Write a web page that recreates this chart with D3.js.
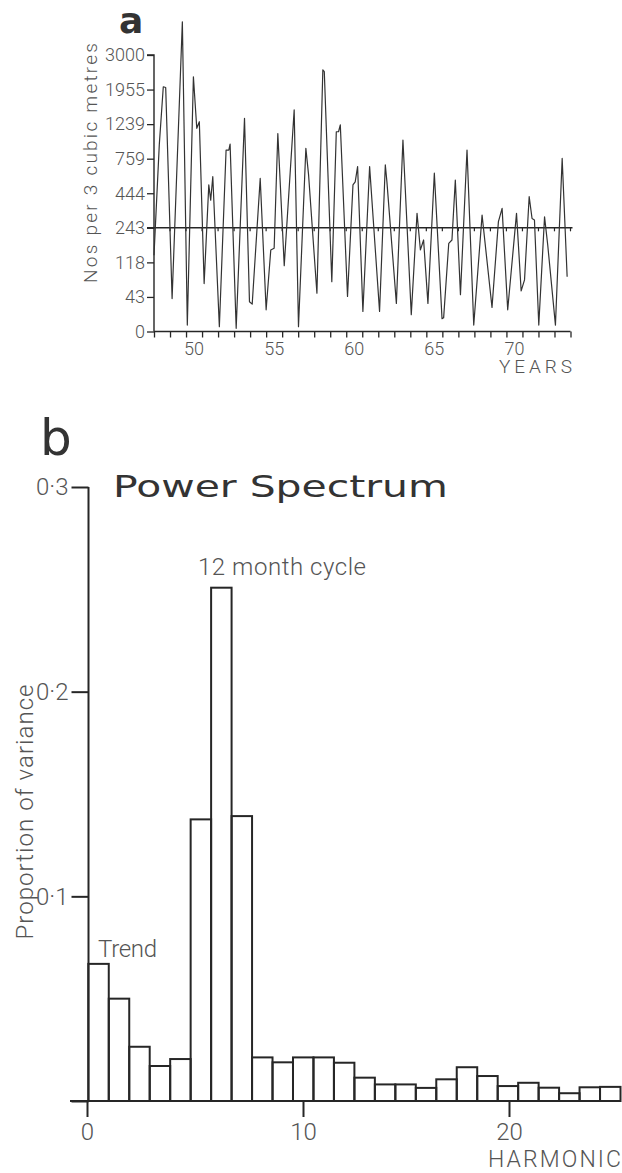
<!DOCTYPE html>
<html>
<head>
<meta charset="utf-8">
<script src="https://cdn.jsdelivr.net/npm/d3@7/dist/d3.min.js"></script>
<style>
  html, body { margin: 0; padding: 0; background: #fff; }
  svg { display: block; }
  .lbl { font-family: Roboto, "Liberation Sans", sans-serif; font-weight: 300; fill: #555; }
</style>
</head>
<body>
<svg id="chart" width="622" height="1173"></svg>
<script>
// ---------- Panel a: time series ----------
const seriesYears = [
  1948.00, 1948.33, 1948.58, 1948.73, 1949.13, 1949.77, 1950.08, 1950.46, 1950.67, 1950.83,
  1951.13, 1951.42, 1951.54, 1951.67, 1952.08, 1952.50, 1952.67, 1952.75, 1953.13, 1953.65,
  1953.96, 1954.13, 1954.63, 1955.00, 1955.29, 1955.50, 1955.73, 1956.13, 1956.75, 1957.02,
  1957.48, 1957.65, 1958.17, 1958.54, 1958.63, 1959.10, 1959.38, 1959.52, 1959.63, 1960.08,
  1960.42, 1960.56, 1960.71, 1961.04, 1961.46, 1962.08, 1962.44, 1962.54, 1963.13, 1963.54,
  1964.06, 1964.42, 1964.63, 1964.83, 1965.10, 1965.50, 1965.98, 1966.08, 1966.40, 1966.60,
  1966.81, 1967.13, 1967.54, 1967.96, 1968.48, 1969.10, 1969.50, 1969.73, 1970.08, 1970.63,
  1970.92, 1971.13, 1971.42, 1971.60, 1971.75, 1972.02, 1972.38, 1972.58, 1973.06, 1973.48,
  1973.79
];
const seriesCounts = [
  144, 951, 2039, 2018, 41, 4003, 8, 2342, 1181, 1289,
  72, 520, 404, 595, 6, 879, 879, 961, 4, 1361,
  37, 34, 579, 27, 163, 169, 1109, 111, 1533, 6,
  903, 611, 51, 2551, 2498, 76, 1133, 1133, 1229, 44,
  520, 548, 687, 25, 687, 25, 702, 548, 35, 1018,
  21, 327, 163, 199, 35, 627, 16, 17, 187, 199,
  564, 48, 879, 8, 317, 30, 279, 356, 27, 327,
  56, 80, 424, 297, 289, 8, 307, 180, 8, 762,
  87
];
const countTicks = [0, 43, 118, 243, 444, 759, 1239, 1955, 3000];
const meanLevel = 243;
const yearLabels = [1950, 1955, 1960, 1965, 1970];
const yearStart = 1948, yearEnd = 1974;

// ---------- Panel b: power spectrum ----------
const spectrum = [
  0.0670, 0.0500, 0.0265, 0.0171, 0.0205, 0.1376, 0.2508, 0.1392, 0.0213, 0.0189,
  0.0213, 0.0213, 0.0187, 0.0114, 0.0081, 0.0081, 0.0064, 0.0106, 0.0165, 0.0122,
  0.0073, 0.0089, 0.0065, 0.0038, 0.0067, 0.0069
];
const varianceTicks = [0, 0.1, 0.2, 0.3];
const harmonicTicks = [0, 10, 20];

const svg = d3.select("#chart");
const ink = "#262626";

// ===== Panel a =====
const xA = d3.scaleLinear().domain([yearStart, yearEnd]).range([154, 570.5]);
const yA = d3.scaleLinear()
  .domain(countTicks)
  .range(countTicks.map((d, i) => 331.5 - i * (276.5 / 8)));

const gA = svg.append("g");

// y axis
const axisAY = d3.axisLeft(yA).tickValues(countTicks).tickSize(7).tickPadding(2).tickFormat(d => d);
gA.append("g").attr("transform", `translate(${xA(yearStart)},0)`).call(axisAY)
  .call(g => g.select(".domain").attr("stroke", ink).attr("stroke-width", 1.4).attr("d", `M-7,${yA(3000)}H0V${yA(0)}`))
  .call(g => g.selectAll(".tick line").attr("stroke", ink).attr("stroke-width", 1.3))
  .call(g => g.selectAll(".tick text").attr("class", "lbl").style("font-size", "18px").attr("fill", "#555"));

// x axis (ticks every year, labels centred in the year interval)
const axisAX = d3.axisBottom(xA).tickValues(d3.range(yearStart, yearEnd + 1)).tickSize(6).tickFormat("");
gA.append("g").attr("transform", `translate(0,${yA(0)})`).call(axisAX)
  .call(g => g.select(".domain").attr("stroke", ink).attr("stroke-width", 1.4).attr("d", `M${xA(yearStart)},0H${xA(yearEnd)}`))
  .call(g => g.selectAll(".tick line").attr("stroke", ink).attr("stroke-width", 1.3));
gA.selectAll("text.yl").data(yearLabels).join("text")
  .attr("class", "lbl")
  .attr("x", d => xA(d + 0.5)).attr("y", yA(0) + 23)
  .attr("text-anchor", "middle").style("font-size", "18px")
  .text(d => String(d).slice(2));

// mean line at 243 with small year ticks
gA.append("line")
  .attr("x1", xA(yearStart) - 7).attr("x2", xA(yearEnd) + 2)
  .attr("y1", yA(meanLevel)).attr("y2", yA(meanLevel))
  .attr("stroke", ink).attr("stroke-width", 1.4);
gA.selectAll("line.mt").data(d3.range(yearStart + 1, yearEnd + 1)).join("line")
  .attr("x1", d => xA(d)).attr("x2", d => xA(d))
  .attr("y1", yA(meanLevel)).attr("y2", yA(meanLevel) + 3.5)
  .attr("stroke", ink).attr("stroke-width", 1.2);

// series line
const lineA = d3.line().x((d, i) => xA(seriesYears[i])).y(d => yA(d));
gA.append("path").datum(seriesCounts)
  .attr("d", lineA).attr("fill", "none")
  .attr("stroke", "#333").attr("stroke-width", 1.2).attr("stroke-linejoin", "round");

// labels panel a
gA.append("text").attr("x", 119).attr("y", 33)
  .style("font-family", "'DejaVu Sans', sans-serif").style("font-weight", "bold").style("font-size", "36px")
  .attr("fill", "#333").text("a");
gA.append("text").attr("class", "lbl")
  .attr("transform", `translate(97,163) rotate(-90)`)
  .attr("text-anchor", "middle").style("font-size", "19px")
  .attr("textLength", 240).attr("lengthAdjust", "spacing")
  .text("Nos per 3 cubic metres");
gA.append("text").attr("class", "lbl")
  .attr("x", 572).attr("y", 373).attr("text-anchor", "end")
  .style("font-size", "19px").attr("textLength", 73).attr("lengthAdjust", "spacing")
  .text("YEARS");

// ===== Panel b =====
const yB = d3.scaleLinear().domain([0, 0.3]).range([1101, 487]);
const xBand = d3.scaleBand().domain(d3.range(spectrum.length)).range([88.3, 620.5]).padding(0);
const xH = d3.scaleLinear().domain(harmonicTicks).range([87, 303, 509]);

const gB = svg.append("g");

// bars (outlined)
gB.selectAll("rect.bar").data(spectrum).join("rect")
  .attr("x", (d, i) => xBand(i)).attr("width", xBand.bandwidth())
  .attr("y", d => yB(d)).attr("height", d => yB(0) - yB(d))
  .attr("fill", "none").attr("stroke", ink).attr("stroke-width", 2);

// y axis
const fmt = d => d === 0 ? "" : String(d).replace(".", "·");
const axisBY = d3.axisLeft(yB).tickValues(varianceTicks).tickSize(17).tickPadding(3).tickFormat(fmt);
gB.append("g").attr("transform", `translate(88.5,0)`).call(axisBY)
  .call(g => g.select(".domain").attr("stroke", ink).attr("stroke-width", 2).attr("d", `M0,${yB(0.3)}V${yB(0)}`))
  .call(g => g.selectAll(".tick line").attr("stroke", ink).attr("stroke-width", 2))
  .call(g => g.selectAll(".tick text").attr("class", "lbl").style("font-size", "24px").attr("fill", "#555"));

// x axis
gB.append("line").attr("x1", 70).attr("x2", 621).attr("y1", yB(0)).attr("y2", yB(0))
  .attr("stroke", ink).attr("stroke-width", 2);
const axisBX = d3.axisBottom(xH).tickValues(harmonicTicks).tickSize(16).tickPadding(6).tickFormat(d => d);
gB.append("g").attr("transform", `translate(0,${yB(0)})`).call(axisBX)
  .call(g => g.select(".domain").remove())
  .call(g => g.selectAll(".tick line").attr("stroke", ink).attr("stroke-width", 2))
  .call(g => g.selectAll(".tick text").attr("class", "lbl").style("font-size", "24px").attr("fill", "#666"));

// labels panel b
gB.append("text").attr("x", 40).attr("y", 455)
  .style("font-family", "'DejaVu Sans', sans-serif").style("font-size", "50px")
  .attr("fill", "#333").text("b");
const title = gB.append("text")
  .style("font-family", "'DejaVu Sans', sans-serif").style("font-size", "30px")
  .attr("fill", "#333").text("Power Spectrum");
const tw = title.node().getComputedTextLength();
title.attr("transform", `translate(113,497) scale(${335 / tw},1)`);
gB.append("text").attr("class", "lbl")
  .attr("x", 198).attr("y", 575).style("font-size", "24px")
  .attr("textLength", 168).attr("lengthAdjust", "spacing")
  .text("12 month cycle");
gB.append("text").attr("class", "lbl")
  .attr("x", 98).attr("y", 957).style("font-size", "24px")
  .attr("textLength", 59).attr("lengthAdjust", "spacing")
  .text("Trend");
gB.append("text").attr("class", "lbl")
  .attr("transform", `translate(33,812) rotate(-90)`)
  .attr("text-anchor", "middle").style("font-size", "24px")
  .attr("textLength", 255).attr("lengthAdjust", "spacing")
  .text("Proportion of variance");
gB.append("text").attr("class", "lbl")
  .attr("x", 621).attr("y", 1167).attr("text-anchor", "end")
  .style("font-size", "23px").attr("textLength", 133).attr("lengthAdjust", "spacing")
  .text("HARMONIC");
</script>
</body>
</html>
